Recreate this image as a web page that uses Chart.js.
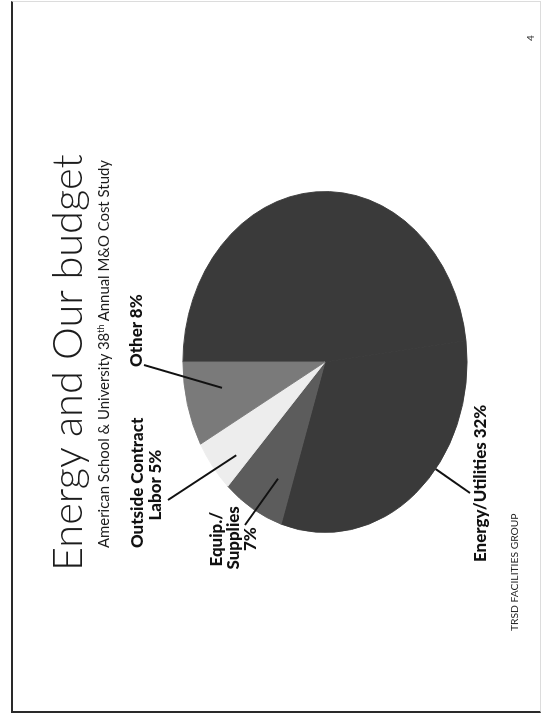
<!DOCTYPE html>
<html>
<head>
<meta charset="utf-8">
<script src="https://cdn.jsdelivr.net/npm/chart.js@4.4.1/dist/chart.umd.min.js"></script>
<style>
  html, body { margin: 0; padding: 0; background: #fff; width: 544px; height: 719px; overflow: hidden; }
  /* the slide is laid out landscape, then turned a quarter turn left like the scan */
  #slide { position: absolute; left: 0; top: 0; width: 719px; height: 544px;
           transform-origin: 0 0; transform: translate(0, 719px) rotate(-90deg);
           font-family: Lato, "Open Sans", sans-serif; color: #1c1c1c; }
  #frame { position: absolute; left: 6px; top: 11px; width: 712px; height: 530px;
           border-left: 2px solid #2a2a2a; border-top: 2px solid #2a2a2a;
           border-right: 1px solid #dcdcdc; border-bottom: 1px solid #dcdcdc; box-sizing: border-box; }
  canvas { position: absolute; left: 0; top: 0; }
  .t { position: absolute; white-space: nowrap; line-height: 1; }
  .lbl { font-weight: 900; color: #111; }
  sup { font-size: 0.6em; line-height: 0; vertical-align: 0.55em; }
</style>
</head>
<body>
<div id="slide">
  <div id="frame"></div>
  <canvas id="pie" width="719" height="544"></canvas>
  <div id="texts"></div>
</div>
<script>
// ----------------- Data -----------------
const categories = ['Remainder', 'Energy/Utilities', 'Equip./Supplies', 'Outside Contract Labor', 'Other'];
const shares = [48, 32, 7, 5, 8];
const sliceColors = ['#3a3a3a', '#3a3a3a', '#5c5c5c', '#ededed', '#7a7a7a'];
// label text as printed on the slide, one entry per line (null = no label)
const labelLines = [
  null,
  ['Energy/Utilities 32%'],
  ['Equip./', 'Supplies', '7%'],
  ['Outside Contract', 'Labor 5%'],
  ['Other 8%']
];

// ----------------- Layout (slide coords, before the quarter turn) -----------------
const SQUISH = 142.5 / 171;           // pie is drawn as a flattened ellipse
// leader: [fraction along the arc, fraction of radius] -> outer end point
const leaderIn = [null, [0.40, 1.0], [0.31, 0.76], [0.31, 0.83], [0.59, 0.74]];
const leaderOut = [null, [226, 470], [194, 245], [219, 168], [354, 144]];
// label lines: [x, baseline, anchor]
const labelPos = [
  null,
  [[157, 487, 'l']],
  [[180, 223, 'c'], [181, 240, 'c'], [180, 257, 'c']],
  [[236, 144, 'c'], [234, 162, 'c']],
  [[352, 143, 'l']]
];

// ----------------- Texts -----------------
const texts = document.getElementById('texts');
function addText(html, x, base, anchor, size, cls) {
  const d = document.createElement('div');
  d.className = 't ' + (cls || '');
  d.innerHTML = html;
  d.style.fontSize = size + 'px';
  texts.appendChild(d);
  d.style.top = (base - 0.887 * size) + 'px';
  d.style.left = (anchor === 'c' ? x - d.offsetWidth / 2 : x) + 'px';
  return d;
}
// font size that makes a text as wide as in the scan
function fitSize(html, width, size, cls) {
  const d = addText(html, 0, 0, 'l', size, cls);
  const s = size * width / d.offsetWidth;
  d.remove();
  return s;
}
addText('Energy and Our budget', 148, 83, 'l', fitSize('Energy and Our budget', 422, 43, ''), '').style.fontWeight = 300;
addText('American School &amp; University 38<sup>th</sup> Annual M&amp;O Cost Study', 171, 109, 'l',
  fitSize('American School &amp; University 38<sup>th</sup> Annual M&amp;O Cost Study', 388, 16, ''), '');
addText('TRSD FACILITIES GROUP', 88, 518, 'l', fitSize('TRSD FACILITIES GROUP', 118, 11, ''), '');
addText('4', 678, 534, 'l', 10, '');
const labelSize = fitSize('Outside Contract', 131, 15, 'lbl');
labelLines.forEach((lines, i) => {
  if (!lines) return;
  lines.forEach((ln, j) => {
    const p = labelPos[i][j];
    addText(ln, p[0], p[1], p[2], labelSize, 'lbl');
  });
});

// ----------------- Pie -----------------
const ellipse = {
  id: 'ellipse',
  beforeDatasetsDraw(chart) {
    const a = chart.getDatasetMeta(0).data[0];
    const c = chart.ctx;
    c.save();
    c.translate(a.x, a.y);
    c.scale(1, SQUISH);
    c.translate(-a.x, -a.y);
  },
  afterDatasetsDraw(chart) {
    const c = chart.ctx;
    c.restore();
    // leader lines from the slices to their labels
    chart.getDatasetMeta(0).data.forEach((arc, i) => {
      if (!leaderIn[i]) return;
      const [t, f] = leaderIn[i];
      const ang = arc.startAngle + t * (arc.endAngle - arc.startAngle);
      const px = arc.x + Math.cos(ang) * arc.outerRadius * f;
      const py = arc.y + Math.sin(ang) * arc.outerRadius * f * SQUISH;
      c.save();
      c.strokeStyle = '#111';
      c.lineWidth = 2;
      c.beginPath();
      c.moveTo(px, py);
      c.lineTo(leaderOut[i][0], leaderOut[i][1]);
      c.stroke();
      c.restore();
    });
  }
};

new Chart(document.getElementById('pie').getContext('2d'), {
  type: 'pie',
  data: {
    labels: categories,
    datasets: [{ data: shares, backgroundColor: sliceColors, borderColor: sliceColors, borderWidth: 1 }]
  },
  options: {
    responsive: false,
    animation: false,
    layout: { padding: { left: 186, right: 191, top: 154, bottom: 48 } },
    plugins: { legend: { display: false }, tooltip: { enabled: false } }
  },
  plugins: [ellipse]
});
</script>
</body>
</html>
